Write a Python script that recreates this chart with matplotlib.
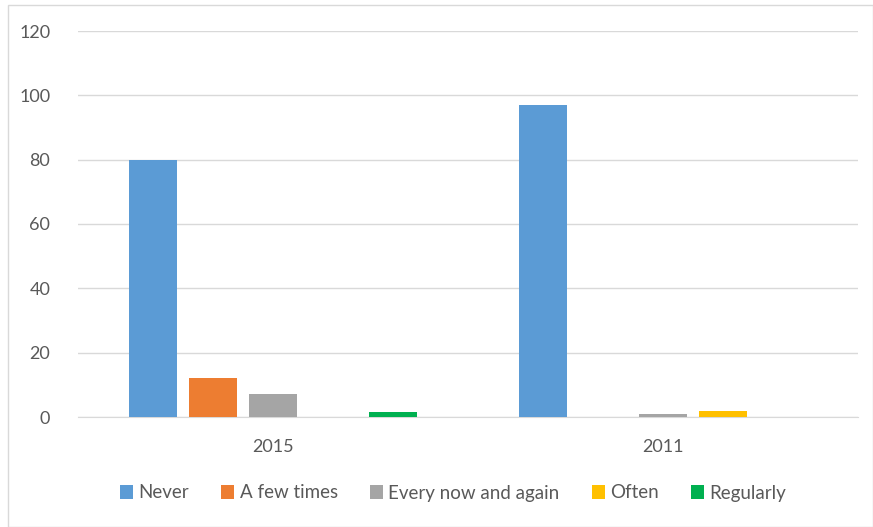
import numpy as np
import matplotlib.pyplot as plt
from matplotlib.patches import Rectangle

# survey answers per year
years = ['2015', '2011']
answers = ['Never', 'A few times', 'Every now and again', 'Often', 'Regularly']
never = [80, 97]
few_times = [12, 0]
now_and_again = [7, 1]
often = [0, 2]
regularly = [1.5, 0]
colors = ['#5B9BD5', '#ED7D31', '#A5A5A5', '#FFC000', '#00B050']

plt.rcParams['font.family'] = ['Lato', 'DejaVu Sans']
txt = '#595959'

fig = plt.figure(figsize=(8.73, 5.27), dpi=100)
ax = fig.add_axes([78 / 873, 1 - 417 / 527, 780 / 873, 386 / 527])

x = np.arange(len(years))
pitch = 0.154
width = 0.123
series = [never, few_times, now_and_again, often, regularly]
for i, (name, vals, c) in enumerate(zip(answers, series, colors)):
    ax.bar(x + (i - 2) * pitch, vals, width, color=c, label=name, zorder=3)

ax.set_xlim(-0.5, 1.5)
ax.set_ylim(0, 120)
ax.set_yticks(range(0, 121, 20))
ax.set_xticks(x)
ax.set_xticklabels(years)
ax.grid(axis='y', color='#D9D9D9', linewidth=1, zorder=0)
for s in ['top', 'right', 'left']:
    ax.spines[s].set_visible(False)
ax.spines['bottom'].set_color('#D9D9D9')
ax.tick_params(axis='both', length=0, labelsize=13, colors=txt)
ax.tick_params(axis='y', pad=20)
ax.tick_params(axis='x', pad=16)

leg = fig.legend(loc='center', bbox_to_anchor=(0.519, 1 - 493 / 527), ncol=5,
                 frameon=False, handlelength=0.7, handleheight=0.7,
                 handletextpad=0.3, columnspacing=1.7, fontsize=13.5)
for t in leg.get_texts():
    t.set_color(txt)

# thin outer frame around the chart
fig.patches.append(Rectangle((8 / 873, 0), 1 - 8 / 873, 1 - 5 / 527,
                             transform=fig.transFigure, fill=False,
                             edgecolor='#D9D9D9', linewidth=1))

fig.savefig('out.png', dpi=100)
